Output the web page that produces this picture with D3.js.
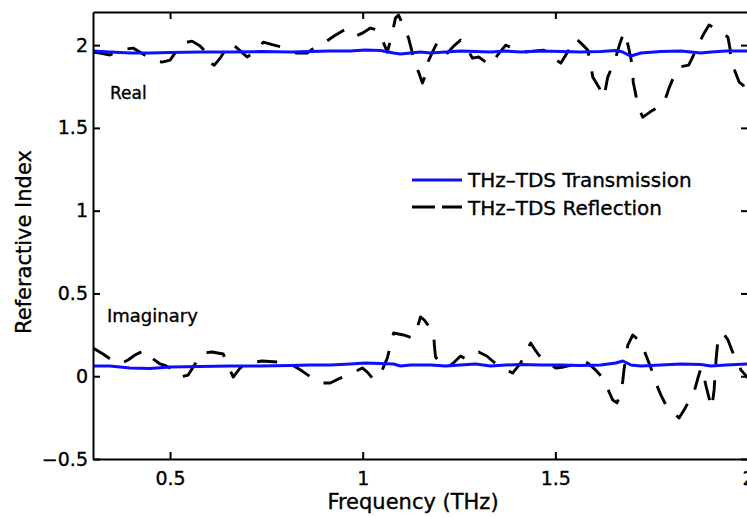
<!DOCTYPE html>
<html>
<head>
<meta charset="utf-8">
<script src="https://cdn.jsdelivr.net/npm/d3@7"></script>
<style>
body { margin: 0; background: #fff; }
text { font-family: "DejaVu Sans", sans-serif; fill: #000; stroke: #000; stroke-width: 0.35px; }
</style>
</head>
<body>
<div id="chart"></div>
<script>
// transmission (blue, solid)
var transFreq = [0.300,0.344,0.396,0.448,0.500,0.578,0.656,0.734,0.812,0.864,0.916,0.968,1.007,1.046,1.080,1.098,1.124,1.150,1.176,1.215,1.254,1.293,1.332,1.371,1.410,1.462,1.514,1.566,1.618,1.657,1.675,1.696,1.722,1.774,1.826,1.878,1.904,1.943,2.000];
var transReal = [1.964,1.958,1.952,1.952,1.955,1.958,1.958,1.961,1.958,1.961,1.964,1.964,1.970,1.967,1.952,1.946,1.952,1.958,1.952,1.958,1.964,1.961,1.958,1.964,1.958,1.964,1.961,1.958,1.961,1.967,1.958,1.934,1.952,1.961,1.964,1.952,1.958,1.964,1.964];
var transImag = [0.062,0.062,0.050,0.047,0.056,0.059,0.062,0.062,0.065,0.068,0.068,0.074,0.080,0.077,0.074,0.062,0.068,0.068,0.068,0.062,0.068,0.074,0.062,0.068,0.071,0.068,0.068,0.065,0.068,0.080,0.092,0.068,0.062,0.068,0.074,0.071,0.062,0.068,0.074];

// reflection (black, dashed) - real part
var reflRealFreq = [0.300,0.318,0.344,0.370,0.404,0.430,0.456,0.479,0.500,0.518,0.534,0.557,0.578,0.591,0.602,0.615,0.630,0.646,0.659,0.680,0.700,0.721,0.742,0.770,0.799,0.828,0.856,0.880,0.903,0.929,0.952,0.976,0.999,1.020,1.038,1.051,1.064,1.075,1.085,1.093,1.106,1.119,1.127,1.134,1.145,1.155,1.163,1.168,1.181,1.194,1.207,1.220,1.236,1.254,1.270,1.285,1.301,1.316,1.332,1.350,1.371,1.394,1.418,1.443,1.470,1.493,1.514,1.535,1.553,1.569,1.584,1.592,1.597,1.613,1.626,1.631,1.636,1.647,1.657,1.667,1.678,1.688,1.696,1.701,1.702,1.709,1.714,1.722,1.727,1.753,1.779,1.789,1.795,1.807,1.821,1.833,1.846,1.860,1.873,1.886,1.899,1.922,1.948,1.953,1.956,1.966,1.977,1.987,2.000];
var reflReal = [1.958,1.952,1.940,1.970,1.982,1.946,1.909,1.897,1.909,1.970,2.012,2.024,1.994,1.964,1.897,1.879,1.921,1.982,2.012,1.970,1.928,1.958,2.018,2.000,1.982,1.952,1.952,1.994,2.018,2.060,2.091,2.048,2.072,2.103,2.091,2.030,1.958,2.054,2.163,2.181,2.115,2.042,1.970,1.897,1.837,1.771,1.819,1.891,1.958,2.018,2.006,1.952,1.994,2.030,1.982,1.921,1.928,1.903,1.879,1.940,2.000,1.976,1.958,1.964,1.970,1.928,1.891,1.970,2.042,2.006,1.970,1.885,1.807,1.746,1.686,1.746,1.807,1.867,1.928,2.006,2.079,2.006,1.921,1.849,1.777,1.698,1.626,1.589,1.565,1.607,1.638,1.698,1.740,1.807,1.867,1.873,1.879,1.946,2.012,2.072,2.121,2.091,2.048,1.982,1.909,1.843,1.777,1.758,1.716];

// reflection (black, dashed) - imaginary part
var reflImagFreq = [0.300,0.326,0.352,0.370,0.391,0.409,0.435,0.453,0.474,0.490,0.505,0.526,0.547,0.565,0.583,0.609,0.638,0.651,0.664,0.682,0.703,0.739,0.778,0.799,0.817,0.843,0.869,0.890,0.916,0.942,0.973,0.999,1.012,1.025,1.041,1.054,1.064,1.072,1.080,1.106,1.129,1.142,1.150,1.160,1.184,1.186,1.189,1.205,1.220,1.238,1.254,1.267,1.301,1.322,1.340,1.363,1.389,1.400,1.410,1.423,1.436,1.446,1.457,1.478,1.501,1.522,1.545,1.566,1.584,1.605,1.623,1.636,1.649,1.660,1.670,1.675,1.678,1.683,1.688,1.701,1.722,1.732,1.743,1.753,1.761,1.774,1.787,1.805,1.821,1.834,1.847,1.860,1.870,1.878,1.886,1.891,1.899,1.906,1.912,1.917,1.922,1.935,1.948,1.958,1.969,1.982,2.000];
var reflImag = [0.170,0.134,0.092,0.074,0.098,0.128,0.158,0.110,0.074,0.062,0.044,-0.005,0.007,0.074,0.140,0.146,0.134,0.062,-0.005,0.050,0.080,0.092,0.086,0.080,0.068,0.031,-0.011,-0.041,-0.041,-0.011,0.019,0.050,0.025,-0.011,-0.011,0.056,0.110,0.188,0.261,0.249,0.231,0.297,0.358,0.339,0.261,0.188,0.116,0.074,0.050,0.086,0.122,0.104,0.146,0.122,0.086,0.050,0.019,0.050,0.080,0.140,0.201,0.164,0.128,0.086,0.050,0.056,0.068,0.098,0.080,0.037,-0.011,-0.077,-0.144,-0.161,-0.095,-0.029,0.037,0.116,0.188,0.249,0.207,0.146,0.080,0.019,-0.041,-0.114,-0.174,-0.216,-0.252,-0.204,-0.150,-0.095,-0.011,0.050,-0.005,-0.059,-0.132,-0.192,-0.083,0.098,0.219,0.261,0.219,0.158,0.098,0.037,-0.011];

var xTicks = [0.5, 1, 1.5, 2];
var yTicks = [-0.5, 0, 0.5, 1, 1.5, 2];
var seriesNames = ["THz\u2013TDS Transmission", "THz\u2013TDS Reflection"];

var svgWidth = 747;
var svgHeight = 517;
var margin = {top: 12, right: -1, bottom: 58, left: 93};
var width = svgWidth - margin.left - margin.right;
var height = svgHeight - margin.top - margin.bottom;

var svg = d3.select("#chart").append("svg").attr("width", svgWidth).attr("height", svgHeight);
var chartGroup = svg.append("g").attr("transform", `translate(${margin.left},${margin.top})`);

var xScale = d3.scaleLinear().domain([0.3, 2]).range([0, width]);
var yScale = d3.scaleLinear().domain([-0.5, 2.2]).range([height, 0]);

chartGroup.append("clipPath").attr("id", "plotClip")
  .append("rect").attr("width", width).attr("height", height);

// data lines
var line = d3.line().x(d => xScale(d[0])).y(d => yScale(d[1]));
var plot = chartGroup.append("g").attr("clip-path", "url(#plotClip)");

function draw(fr, vals, color, dash) {
  plot.append("path")
    .datum(fr.map((f, i) => [f, vals[i]]))
    .attr("d", line)
    .attr("fill", "none")
    .attr("stroke", color)
    .attr("stroke-width", dash ? 2.9 : 3)
    .attr("stroke-dasharray", dash)
    .attr("stroke-linejoin", "round");
}
draw(reflRealFreq, reflReal, "#000", "20,16");
draw(reflImagFreq, reflImag, "#000", "20,16");
draw(transFreq, transReal, "#0d0dff", null);
draw(transFreq, transImag, "#0d0dff", null);

// axes (box with inward ticks)
var fmt = d3.format("~g");
var bottomAxis = d3.axisBottom(xScale).tickValues(xTicks).tickFormat(fmt).tickSizeInner(-7).tickSizeOuter(0).tickPadding(13);
var leftAxis = d3.axisLeft(yScale).tickValues(yTicks).tickFormat(fmt).tickSizeInner(-7).tickSizeOuter(0).tickPadding(5);
var topAxis = d3.axisTop(xScale).tickValues(xTicks).tickFormat("").tickSizeInner(-7).tickSizeOuter(0);
var rightAxis = d3.axisRight(yScale).tickValues(yTicks).tickFormat("").tickSizeInner(-7).tickSizeOuter(0);

var axes = [
  chartGroup.append("g").attr("transform", `translate(0,${height})`).call(bottomAxis),
  chartGroup.append("g").call(leftAxis),
  chartGroup.append("g").call(topAxis),
  chartGroup.append("g").attr("transform", `translate(${width},0)`).call(rightAxis)
];
axes.forEach(function(a) {
  a.selectAll("path, line").attr("stroke", "#000").attr("stroke-width", 2);
  a.selectAll("text").style("font-size", "19px").attr("fill", "#000");
});

// annotations
chartGroup.append("text").attr("x", 17).attr("y", 87).style("font-size", "17px").text("Real");
chartGroup.append("text").attr("x", 14).attr("y", 310).style("font-size", "18px").text("Imaginary");

// axis labels
chartGroup.append("text")
  .attr("transform", "rotate(-90)")
  .attr("x", -230)
  .attr("y", -62)
  .attr("text-anchor", "middle")
  .style("font-size", "21px")
  .text("Referactive Index");

chartGroup.append("text")
  .attr("x", 320)
  .attr("y", 497)
  .attr("text-anchor", "middle")
  .style("font-size", "21px")
  .text("Frequency (THz)");

// legend
var legend = chartGroup.append("g").attr("transform", "translate(319,168)");
legend.append("line").attr("x1", 0).attr("x2", 50).attr("y1", 0).attr("y2", 0)
  .attr("stroke", "#0d0dff").attr("stroke-width", 3);
legend.append("line").attr("x1", 0).attr("x2", 50).attr("y1", 27).attr("y2", 27)
  .attr("stroke", "#000").attr("stroke-width", 2.9).attr("stroke-dasharray", "23,7");
legend.selectAll("text.lg").data(seriesNames).enter().append("text")
  .attr("class", "lg")
  .attr("x", 56)
  .attr("y", (d, i) => 7 + i * 28)
  .style("font-size", "20px")
  .text(d => d);
</script>
</body>
</html>
